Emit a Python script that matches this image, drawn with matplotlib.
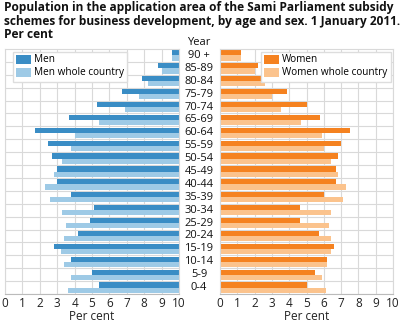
import matplotlib
matplotlib.use("Agg")
import matplotlib.pyplot as plt
from matplotlib.ticker import FuncFormatter, MultipleLocator
import numpy as np

plt.rcParams['font.family'] = ['Open Sans', 'DejaVu Sans']

ages = ["90 +", "85-89", "80-84", "75-79", "70-74", "65-69", "60-64", "55-59",
        "50-54", "45-49", "40-44", "35-39", "30-34", "25-29", "20-24", "15-19",
        "10-14", "5-9", "0-4"]
men = [0.4, 1.2, 2.1, 3.3, 4.7, 6.3, 8.3, 7.5, 7.3, 7.0, 7.0, 6.2, 4.9, 5.1,
       5.8, 7.2, 6.2, 5.0, 4.6]
men_country = [0.4, 1.0, 1.8, 2.3, 3.1, 4.6, 6.0, 6.2, 6.7, 7.2, 7.7, 7.4, 6.7,
               6.5, 6.6, 6.8, 6.6, 6.2, 6.4]
women = [1.2, 2.2, 3.1, 3.9, 5.0, 5.8, 7.5, 7.0, 6.8, 6.7, 6.7, 6.0, 4.6, 4.6,
         5.7, 6.6, 6.2, 5.5, 5.0]
women_country = [1.2, 2.0, 2.6, 3.0, 3.5, 4.7, 5.9, 6.0, 6.4, 6.8, 7.3, 7.1,
                 6.4, 6.3, 6.4, 6.4, 6.2, 5.9, 6.1]

title_lines = ["Population in the application area of the Sami Parliament subsidy",
               "schemes for business development, by age and sex. 1 January 2011.",
               "Per cent"]

c_men, c_men_c = "#3a8dc5", "#9ecae6"
c_wom, c_wom_c = "#f58220", "#fbc38d"
grid_c = "#d9d9d9"

W, H = 403, 324
fig = plt.figure(figsize=(W / 100, H / 100), dpi=100)

def frac(x0, x1, ytop, ybot):
    return [x0 / W, 1 - ybot / H, (x1 - x0) / W, (ybot - ytop) / H]

axL = fig.add_axes(frac(5, 179, 49, 294))
axR = fig.add_axes(frac(220, 393, 49, 294))

y = np.arange(len(ages))
h = 0.4

def style(ax):
    ax.set_ylim(len(ages) - 0.5, -0.5)
    ax.xaxis.set_major_locator(MultipleLocator(1))
    ax.set_yticks(y + 0.5, minor=False)
    ax.set_yticklabels([])
    ax.tick_params(axis='y', length=0)
    ax.tick_params(axis='x', length=0, labelsize=8.5, pad=2, colors="#222222")
    ax.grid(True, color=grid_c, linewidth=0.8)
    ax.set_axisbelow(True)
    for s in ax.spines.values():
        s.set_color(grid_c)
        s.set_linewidth(0.8)
    ax.spines['bottom'].set_color("#bbbbbb")
    ax.set_xlabel("Per cent", fontsize=8.5, labelpad=0, color="#222222")

# Men: bars grow leftwards from the centre
axL.barh(y - h / 2, men, height=h, color=c_men, label="Men")
axL.barh(y + h / 2, men_country, height=h, color=c_men_c, label="Men whole country")
axL.set_xlim(10, 0)
axL.xaxis.set_major_formatter(FuncFormatter(lambda v, p: f"{10 - v:g}"))
style(axL)

axR.barh(y - h / 2, women, height=h, color=c_wom, label="Women")
axR.barh(y + h / 2, women_country, height=h, color=c_wom_c, label="Women whole country")
axR.set_xlim(0, 10)
style(axR)

leg_kw = dict(fontsize=7.2, frameon=True, fancybox=False, framealpha=1,
              edgecolor="#dddddd", handlelength=1.5, handleheight=1.0,
              handletextpad=0.3, labelspacing=0.2, borderpad=0.3,
              borderaxespad=0.25)
axL.legend(loc="upper left", bbox_to_anchor=(0.03, 1.0), **leg_kw)
axR.legend(loc="upper right", bbox_to_anchor=(1.0, 1.0), **leg_kw)

# Age group labels between the two panels
fig.canvas.draw()
for i, a in enumerate(ages):
    yc = axL.transData.transform((0, i))[1]
    fig.text(199 / W, yc / H, a, ha="center", va="center", fontsize=8,
             color="#111111")
fig.text(199 / W, 1 - 42.5 / H, "Year", ha="center", va="center", fontsize=8,
         color="#111111")

# Title, one line at a time
for k, line in enumerate(title_lines):
    fig.text(4 / W, 1 - (8 + 13 * k) / H, line, ha="left", va="center",
             fontsize=8.6, fontweight="bold", color="#111111")

fig.savefig("out.png", dpi=100)
